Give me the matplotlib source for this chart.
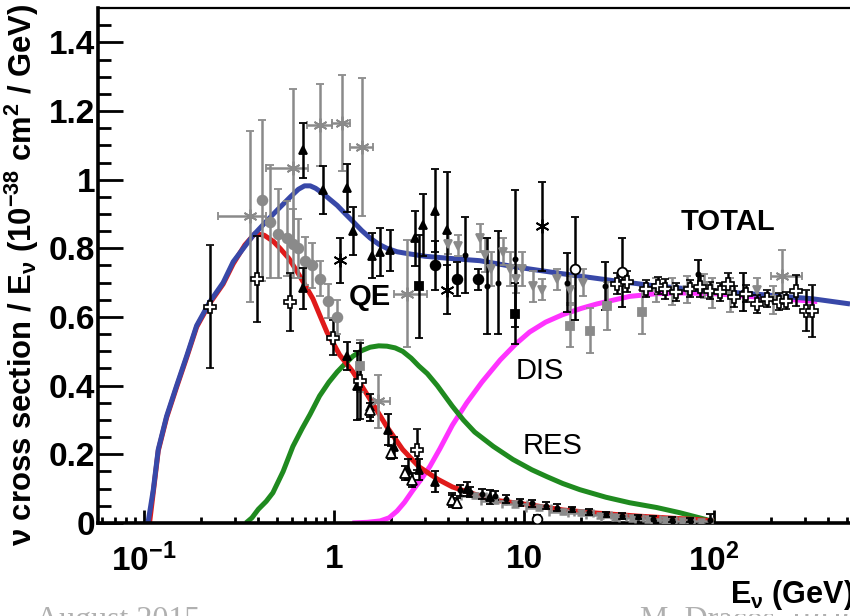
import numpy as np
import matplotlib
matplotlib.use("Agg")
import matplotlib.pyplot as plt
from matplotlib.ticker import FixedLocator, FixedFormatter, NullFormatter

# ======================
# FONTS
# ======================
plt.rcParams["font.family"] = ["Liberation Sans", "DejaVu Sans"]
plt.rcParams["font.weight"] = "bold"
plt.rcParams["mathtext.fontset"] = "custom"
plt.rcParams["mathtext.rm"] = "Liberation Sans:bold"
plt.rcParams["mathtext.it"] = "Liberation Sans:bold"
plt.rcParams["mathtext.bf"] = "Liberation Sans:bold"

# ======================
# MODEL CURVES (E in GeV, sigma/E in 1e-38 cm^2/GeV)
# ======================
total_E = [0.105, 0.112, 0.1189, 0.1316, 0.1486, 0.168, 0.1894, 0.222, 0.261, 0.295, 0.376,
           0.443, 0.50, 0.59, 0.65, 0.70, 0.75, 0.80, 0.875, 0.95, 1.04, 1.15, 1.26, 1.4,
           1.55, 1.72, 1.9, 2.15, 2.42, 3.0, 4.0, 5.86, 8.75, 15, 29.4, 50, 98.8, 180, 331, 520]
total_v = [0.0, 0.097, 0.214, 0.311, 0.40, 0.487, 0.575, 0.644, 0.70, 0.761, 0.838,
           0.88, 0.91, 0.95, 0.972, 0.982, 0.982, 0.975, 0.96, 0.943, 0.925, 0.90, 0.878, 0.852,
           0.83, 0.812, 0.80, 0.79, 0.785, 0.777, 0.771, 0.764, 0.747, 0.728, 0.706, 0.69,
           0.676, 0.665, 0.653, 0.638]

qe_E = [0.107, 0.112, 0.1189, 0.1316, 0.1486, 0.168, 0.1894, 0.222, 0.261, 0.295, 0.34, 0.384,
        0.43, 0.48, 0.52, 0.58, 0.64, 0.71, 0.775, 0.85, 0.92, 1.0, 1.07, 1.26, 1.55, 1.9, 2.3,
        2.8, 3.5, 4.2, 5.2, 6.9, 10.7, 16, 24, 40, 60, 81, 100]
qe_v = [0.0, 0.09, 0.21, 0.307, 0.396, 0.483, 0.571, 0.64, 0.696, 0.755, 0.81, 0.843,
        0.838, 0.82, 0.80, 0.77, 0.732, 0.69, 0.653, 0.60, 0.555, 0.52, 0.49, 0.44, 0.36, 0.28,
        0.214, 0.164, 0.128, 0.105, 0.088, 0.067, 0.053, 0.038, 0.029, 0.02, 0.014, 0.01, 0.006]

res_E = [0.344, 0.37, 0.40, 0.44, 0.477, 0.54, 0.608, 0.68, 0.748, 0.84, 0.94, 1.04, 1.15,
         1.26, 1.4, 1.55, 1.72, 1.9, 2.1, 2.3, 2.55, 2.8, 3.1, 3.5, 4.2, 4.8, 5.5, 6.9, 8.75,
         11, 13.2, 16, 19.7, 27, 36, 50, 66, 80, 100]
res_v = [0.0, 0.015, 0.04, 0.063, 0.088, 0.15, 0.223, 0.275, 0.316, 0.37, 0.41, 0.44, 0.465,
         0.486, 0.502, 0.512, 0.516, 0.515, 0.51, 0.50, 0.48, 0.457, 0.435, 0.40, 0.34, 0.30,
         0.265, 0.223, 0.185, 0.155, 0.135, 0.115, 0.097, 0.075, 0.059, 0.045, 0.03, 0.018, 0.004]

dis_E = [1.25, 1.5, 1.75, 1.95, 2.15, 2.35, 2.6, 2.9, 3.2, 3.6, 4.2, 5.0, 6.0, 7.5, 9, 10.7,
         13, 16, 20, 24.2, 30, 36, 50, 70, 100, 200, 350]
dis_v = [0.0, 0.002, 0.006, 0.015, 0.035, 0.06, 0.095, 0.13, 0.165, 0.215, 0.285, 0.35, 0.41,
         0.475, 0.52, 0.556, 0.585, 0.607, 0.625, 0.638, 0.65, 0.66, 0.668, 0.67, 0.668, 0.655,
         0.645]

# ======================
# DATA POINTS
# ======================
# open crosses (white plus, black edge)
ocross_E = [0.222, 0.394, 0.585, 0.99, 1.37, 2.73, 30.8, 34.7, 44, 50.6, 55, 63.5, 74.6, 84, 95,
            107, 118, 128, 148, 168, 190, 219, 239, 270, 305, 330]
ocross_v = [0.63, 0.71, 0.644, 0.54, 0.413, 0.214, 0.697, 0.703, 0.682, 0.691, 0.682, 0.673,
            0.682, 0.688, 0.676, 0.673, 0.697, 0.659, 0.668, 0.638, 0.653, 0.644, 0.647, 0.676,
            0.618, 0.618]
ocross_err = [0.18, 0.125, 0.085, 0.05, 0.11, 0.06, 0.03, 0.03, 0.025, 0.025, 0.03, 0.025,
              0.025, 0.03, 0.025, 0.025, 0.03, 0.03, 0.025, 0.025, 0.025, 0.025, 0.025, 0.045,
              0.06, 0.075]

# black filled triangles (total + QE)
btri_E = [0.687, 0.875, 1.17, 1.26, 1.58, 1.75, 1.97, 2.67, 2.95, 3.4, 3.93,
          0.687, 1.17, 1.33, 1.55, 1.92, 2.08, 2.45, 2.8, 3.4, 4.2, 5.0, 6.6]
btri_v = [1.086, 0.97, 0.975, 0.85, 0.779, 0.79, 0.794, 0.829, 0.868, 0.91, 0.852,
          0.683, 0.487, 0.40, 0.337, 0.272, 0.22, 0.155, 0.155, 0.12, 0.067, 0.10, 0.076]
btri_err = [0.08, 0.07, 0.07, 0.07, 0.065, 0.07, 0.06, 0.08, 0.09, 0.12, 0.17,
            0.06, 0.04, 0.1, 0.04, 0.045, 0.03, 0.03, 0.03, 0.03, 0.02, 0.02, 0.02]

# open triangles (QE)
otri_E = [1.55, 2.0, 2.36, 2.57, 4.2, 4.44]
otri_v = [0.33, 0.205, 0.146, 0.126, 0.067, 0.058]
otri_err = [0.02, 0.02, 0.02, 0.02, 0.015, 0.015]

# grey filled circles (QE)
gcirc_E = [0.418, 0.46, 0.507, 0.566, 0.608, 0.647, 0.703, 0.766, 0.843, 0.929, 1.04]
gcirc_v = [0.94, 0.878, 0.843, 0.829, 0.814, 0.80, 0.764, 0.75, 0.712, 0.647, 0.60]
gcirc_err = [0.235, 0.165, 0.13, 0.11, 0.1, 0.085, 0.07, 0.065, 0.05, 0.05, 0.05]

# grey asterisks with energy bins
gstar_E = [0.36, 0.608, 0.843, 1.10, 1.40, 2.42, 1.70, 228]
gstar_lo = [0.245, 0.44, 0.72, 0.98, 1.21, 2.08, 1.55, 200]
gstar_hi = [0.44, 0.73, 0.98, 1.21, 1.6, 3.1, 1.97, 290]
gstar_v = [0.893, 1.034, 1.16, 1.165, 1.095, 0.668, 0.354, 0.72]
gstar_err = [0.25, 0.23, 0.12, 0.14, 0.2, 0.155, 0.077, 0.075]

# black asterisks
bstar_E = [1.08, 3.93, 12.4]
bstar_v = [0.765, 0.68, 0.864]
bstar_err = [0.065, 0.07, 0.13]

# black filled circles / squares
bcirc_E = [3.4, 4.44, 5.7]
bcirc_v = [0.75, 0.71, 0.71]
bcirc_err = [0.07, 0.05, 0.03]
bsq_E = [2.8, 9.0]
bsq_v = [0.69, 0.61]
bsq_err = [0.15, 0.09]

# black small points (total region)
bpt_E = [4.9, 6.4, 7.3, 9.0, 16.8, 26.7, 82, 142]
bpt_v = [0.78, 0.69, 0.70, 0.77, 0.70, 0.69, 0.725, 0.673]
bpt_err = [0.11, 0.14, 0.15, 0.2, 0.085, 0.07, 0.04, 0.055]

# open circles
ocirc_E = [18.5, 33, 11.7]
ocirc_v = [0.74, 0.73, 0.012]
ocirc_err = [0.15, 0.1, 0.01]

# grey squares
gsq_E = [1.37, 17.5, 22.2, 27.3, 42]
gsq_v = [0.457, 0.574, 0.56, 0.633, 0.615]
gsq_err = [0.075, 0.06, 0.065, 0.07, 0.065]

# grey inverted triangles (total region)
gtri_E = [3.97, 4.48, 5.86, 6.25, 6.7, 7.8, 8.4, 9.1, 9.8, 11.1, 12.5, 14.9, 17.5, 20.5,
          49.7, 60, 72, 89, 98, 121, 168, 204]
gtri_v = [0.814, 0.808, 0.83, 0.78, 0.74, 0.79, 0.74, 0.71, 0.74, 0.69, 0.68, 0.71, 0.68, 0.70,
          0.68, 0.675, 0.68, 0.69, 0.67, 0.665, 0.68, 0.65]
gtri_err = [0.03, 0.03, 0.04, 0.05, 0.05, 0.04, 0.05, 0.04, 0.05, 0.045, 0.03, 0.03, 0.04, 0.04,
            0.035, 0.04, 0.04, 0.035, 0.045, 0.05, 0.035, 0.04]

# QE tail (high energy)
gtail_E = [5.5, 7, 9, 12, 16, 20, 25, 30, 37, 45, 55, 68, 85]
gtail_v = [0.08, 0.065, 0.055, 0.045, 0.033, 0.03, 0.022, 0.018, 0.015, 0.012, 0.008, 0.006, 0.005]
btail_E = [4.6, 5.2, 6, 7, 8, 9.5, 11, 13, 15, 18, 22, 27, 33, 40, 48, 60, 75, 95]
btail_v = [0.095, 0.09, 0.085, 0.08, 0.07, 0.06, 0.058, 0.05, 0.045, 0.04, 0.032, 0.025,
           0.02, 0.018, 0.013, 0.01, 0.008, 0.01]
btail_err = [0.015, 0.015, 0.015, 0.012, 0.012, 0.01, 0.01, 0.01, 0.01, 0.008, 0.008, 0.008,
             0.008, 0.006, 0.006, 0.006, 0.006, 0.015]

# ======================
# FIGURE
# ======================
GREY = "#8a8a8a"
fig = plt.figure(figsize=(8.5, 6.16), dpi=100)
ax = fig.add_axes([0.1153, 0.151, 0.8847, 0.836])

line_kw = dict(lw=3.6, zorder=2, solid_joinstyle="round", solid_capstyle="butt")
ax.plot(dis_E, dis_v, color="#ff33ff", **line_kw)
ax.plot(res_E, res_v, color="#1f8a1f", **line_kw)
ax.plot(qe_E, qe_v, color="#e01a1a", **line_kw)
ax.plot(total_E, total_v, color="#3848a8", **line_kw)

eb = dict(elinewidth=1.8, capsize=3, capthick=1.8, linestyle="none", zorder=4)


def pts(E, v, err, marker, color, face, ms=6, xlo=None, xhi=None, mew=1.3):
    xerr = None
    if xlo is not None:
        xerr = [np.array(E) - np.array(xlo), np.array(xhi) - np.array(E)]
    ax.errorbar(E, v, yerr=err, xerr=xerr, marker=marker, color=color, mfc=face,
                mec=color, ms=ms, mew=mew, **eb)


tail_xerr = [0.15 * np.array(gtail_E), 0.15 * np.array(gtail_E)]
ax.errorbar(gtail_E, gtail_v, yerr=0.008, xerr=tail_xerr, marker="s", ms=3,
            color=GREY, **eb)
pts(btail_E, btail_v, btail_err, "o", "black", "black", ms=3)
pts(gcirc_E, gcirc_v, gcirc_err, "o", GREY, GREY, ms=7)
pts(gstar_E, gstar_v, gstar_err, (6, 2, 0), GREY, GREY, ms=10,
    xlo=gstar_lo, xhi=gstar_hi)
pts(gsq_E, gsq_v, gsq_err, "s", GREY, GREY, ms=6)
pts(gtri_E, gtri_v, gtri_err, "v", GREY, GREY, ms=6)
pts(btri_E, btri_v, btri_err, "^", "black", "black", ms=6)
pts(otri_E, otri_v, otri_err, "^", "black", "white", ms=7)
pts(bstar_E, bstar_v, bstar_err, (6, 2, 0), "black", "black", ms=10)
pts(bcirc_E, bcirc_v, bcirc_err, "o", "black", "black", ms=7)
pts(bsq_E, bsq_v, bsq_err, "s", "black", "black", ms=6)
pts(bpt_E, bpt_v, bpt_err, "o", "black", "black", ms=3)
pts(ocirc_E, ocirc_v, ocirc_err, "o", "black", "white", ms=7)
pts(ocross_E, ocross_v, ocross_err, "P", "black", "white", ms=9, mew=1.2)

# curve labels
ax.text(118.6, 0.878, "TOTAL", fontsize=21, fontweight="bold", ha="center", va="center", zorder=6)
ax.text(1.545, 0.659, "QE", fontsize=21, fontweight="bold", ha="center", va="center", zorder=6)
ax.text(12.1, 0.442, "DIS", fontsize=21, fontweight="normal", ha="center", va="center", zorder=6)
ax.text(14.2, 0.223, "RES", fontsize=21, fontweight="normal", ha="center", va="center", zorder=6)

# ======================
# AXES
# ======================
ax.set_xscale("log")
ax.set_xlim(0.0573, 520)
ax.set_ylim(0, 1.5)

ax.xaxis.set_major_locator(FixedLocator([0.1, 1, 10, 100]))
ax.xaxis.set_major_formatter(FixedFormatter([r"$10^{-1}$", "1", "10", r"$10^{2}$"]))
minor_x = [m * 10.0 ** d for d in range(-2, 3) for m in range(2, 10)]
ax.xaxis.set_minor_locator(FixedLocator(minor_x))
ax.xaxis.set_minor_formatter(NullFormatter())

ax.yaxis.set_major_locator(FixedLocator([0, 0.2, 0.4, 0.6, 0.8, 1.0, 1.2, 1.4]))
ax.yaxis.set_major_formatter(FixedFormatter(["0", "0.2", "0.4", "0.6", "0.8", "1", "1.2", "1.4"]))
ax.yaxis.set_minor_locator(FixedLocator(np.arange(0, 1.5, 0.05)))

ax.tick_params(axis="y", which="major", direction="in", length=18, width=2, labelsize=24, pad=2)
ax.tick_params(axis="y", which="minor", direction="in", length=9, width=2)
ax.tick_params(axis="x", which="major", direction="in", length=9.5, width=2, labelsize=24, pad=15)
ax.tick_params(axis="x", which="minor", direction="in", length=4.5, width=2)
for lab in ax.get_xticklabels() + ax.get_yticklabels():
    lab.set_fontweight("bold")

ax.spines["left"].set_linewidth(2.6)
ax.spines["bottom"].set_linewidth(2.6)
ax.spines["top"].set_linewidth(1.6)
ax.spines["right"].set_visible(False)

fig.text(0.026, 0.553, r"$\nu$ cross section / E$_{\nu}$ (10$^{-38}$ cm$^{2}$ / GeV)",
         rotation=90, ha="center", va="center", fontsize=22.3, fontweight="bold")

# footer
fig.text(0.042, 0.017, "August 2015", family="Liberation Serif", fontweight="normal",
         fontsize=23, color="#b0b0b0", va="top", ha="left")
fig.text(0.753, 0.017, "M. Dracos, IPHC", family="Liberation Serif", fontweight="normal",
         fontsize=23, color="#b0b0b0", va="top", ha="left")
fig.text(1.004, 0.034, r"E$_{\nu}$ (GeV)", ha="right", va="center", fontsize=22,
         fontweight="bold", bbox=dict(facecolor="white", edgecolor="none", pad=1))

fig.savefig("out.png", dpi=100)
